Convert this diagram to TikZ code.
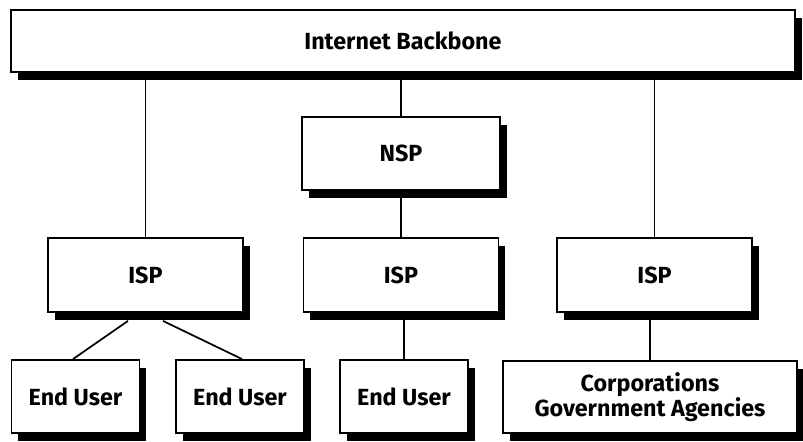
\documentclass[tikz,border=0pt]{standalone}
\usepackage{fontspec}
\setmainfont{Fira Sans}
\usetikzlibrary{shadows}
\colorlet{box edge}{black}
\colorlet{box shadow}{black}
\tikzset{netbox/.style={draw=box edge, line width=1.4pt, fill=white,
    font=\bfseries\fontsize{17.5}{18.5}\selectfont, align=center, inner sep=0pt,
    drop shadow={shadow xshift=5pt, shadow yshift=-6pt, fill=box shadow, opacity=1}},
  link/.style={draw=box edge, line width=1.3pt}}

\begin{document}
\begin{tikzpicture}[x=0.75pt, y=-0.75pt]
  \useasboundingbox (0,0) rectangle (803,442);
  \node[netbox, minimum width=588pt, minimum height=46.5pt] (bb) at (403,41) {Internet Backbone};
  \node[netbox, minimum width=148.5pt, minimum height=54.75pt] (nsp) at (401,153.5) {NSP};
  \node[netbox, minimum width=146.25pt, minimum height=55.5pt] (isp1) at (145.5,275) {ISP};
  \node[netbox, minimum width=146.25pt, minimum height=55.5pt] (isp2) at (401,275) {ISP};
  \node[netbox, minimum width=146.25pt, minimum height=55.5pt] (isp3) at (654.5,275) {ISP};
  \node[netbox, minimum width=96pt, minimum height=54.75pt] (eu1) at (75.5,396.5) {End User};
  \node[netbox, minimum width=96pt, minimum height=54.75pt] (eu2) at (240,396.5) {End User};
  \node[netbox, minimum width=96pt, minimum height=54.75pt] (eu3) at (404,396.5) {End User};
  \node[netbox, minimum width=220.5pt, minimum height=54pt] (corp) at (650,397) {Corporations\\Government Agencies};
  \draw[link] (bb.south -| isp1.north) -- (isp1.north);
  \draw[link] (bb.south -| nsp.north) -- (nsp.north);
  \draw[link] (bb.south -| isp3.north) -- (isp3.north);
  \draw[link] (nsp.south) -- (isp2.north);
  \draw[link] (isp2.south -| eu3.north) -- (eu3.north);
  \draw[link] (isp3.south -| corp.north) -- (corp.north);
  \draw[link] ([shift={(-17.5,8)}]isp1.south) -- ([shift={(-2.5,0)}]eu1.north);
  \draw[link] ([shift={(17.5,8)}]isp1.south) -- ([shift={(2,0)}]eu2.north);
\end{tikzpicture}
\end{document}
